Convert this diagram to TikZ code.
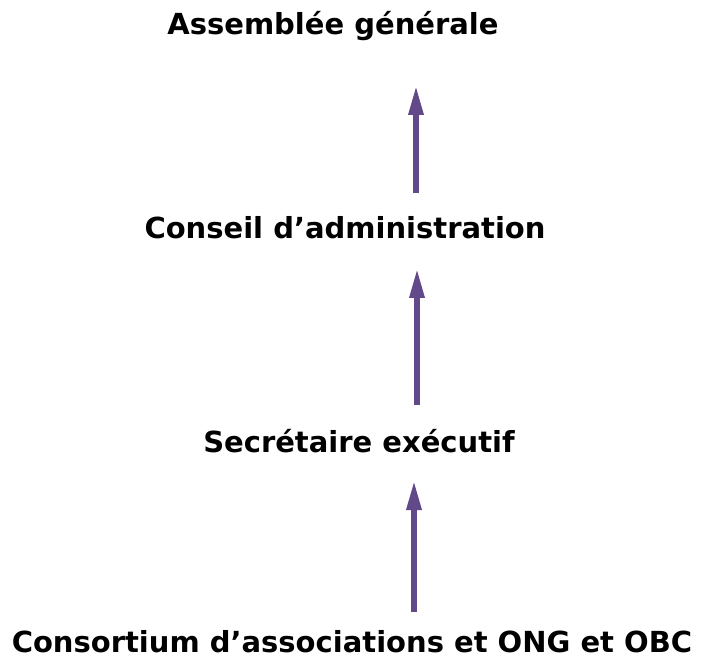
\documentclass[tikz,border=0pt]{standalone}
\usepackage{fontspec}
\setmainfont{DejaVu Sans}
\usetikzlibrary{arrows.meta}
\definecolor{arrowpurple}{HTML}{62498A}
\tikzset{
  label/.style={font=\bfseries\fontsize{29}{34}\selectfont, anchor=base, inner sep=0pt},
  uparrow/.style={draw=arrowpurple, line width=6pt, -{Triangle[length=30pt,width=14pt]}}
}
\begin{document}
\begin{tikzpicture}[x=1pt,y=-1pt]
\useasboundingbox (0,0) rectangle (702,660);
\node[label] (ag) at (333,35) {Assemblée générale};
\node[label] (ca) at (345,239) {Conseil d’administration};
\node[label] (se) at (359,453) {Secrétaire exécutif};
\node[label] (co) at (352,652) {Consortium d’associations et ONG et OBC};
\coordinate (a1s) at (416,193); \coordinate (a1e) at (416,85);
\coordinate (a2s) at (417,405); \coordinate (a2e) at (417,268);
\coordinate (a3s) at (414,612); \coordinate (a3e) at (414,480);
\draw[uparrow] (a1s) -- (a1e);
\draw[uparrow] (a2s) -- (a2e);
\draw[uparrow] (a3s) -- (a3e);
\end{tikzpicture}
\end{document}
